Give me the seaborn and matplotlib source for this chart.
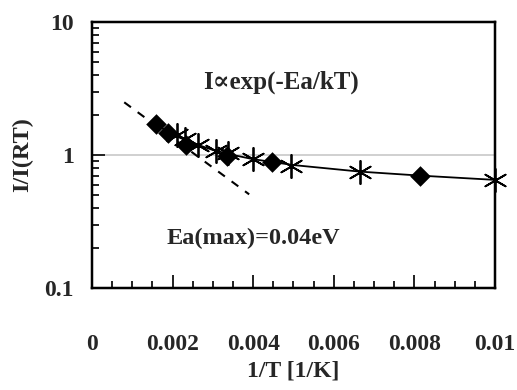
import matplotlib
matplotlib.use("Agg")
import matplotlib.pyplot as plt
import seaborn as sns
import numpy as np
import pandas as pd
from matplotlib.ticker import MultipleLocator, LogLocator, NullFormatter, FixedLocator

# Data
diamond_x = [0.00159, 0.00188, 0.00233, 0.00334, 0.00446, 0.00814]
diamond_y = [1.71, 1.47, 1.19, 0.98, 0.89, 0.69]
star_x = [0.00210, 0.00231, 0.00264, 0.00308, 0.00338, 0.00399, 0.00495, 0.00665, 0.0100]
star_y = [1.41, 1.33, 1.19, 1.07, 1.04, 0.93, 0.83, 0.75, 0.65]
fit_x = [0.00159, 0.00200, 0.00250, 0.00300, 0.00350, 0.00400, 0.00500, 0.00665, 0.00814, 0.0100]
fit_y = [1.70, 1.42, 1.23, 1.09, 1.00, 0.93, 0.84, 0.75, 0.70, 0.65]
dash_x = [0.0008, 0.0039]
dash_y = [2.49, 0.506]
x_ticks = [0, 0.002, 0.004, 0.006, 0.008, 0.01]
x_ticklabels = ["0", "0.002", "0.004", "0.006", "0.008", "0.01"]
y_ticks = [0.1, 1, 10]
y_ticklabels = ["0.1", "1", "10"]

sns.set_style("white")
plt.rcParams['font.family'] = ['Liberation Serif', 'DejaVu Serif']
plt.rcParams['font.weight'] = 'bold'

PX = 72 / 100  # points per pixel

fig = plt.figure(figsize=(5.17, 3.90), dpi=100)
ax = fig.add_axes([92/517, 1-288/390, (495-92)/517, (288-22)/390])
ax.set_yscale('log')
ax.set_xlim(0, 0.01)
ax.set_ylim(0.1, 10)

ax.axhline(1, color='#c8c8c8', lw=1.2, zorder=0)

sns.lineplot(x=fit_x, y=fit_y, ax=ax, color='black', lw=1.3, estimator=None, sort=False,
             zorder=2, clip_on=False)
sns.lineplot(x=dash_x, y=dash_y, ax=ax, color='black', lw=1.5, estimator=None, sort=False,
             linestyle=(0, (4, 4)), zorder=2)
sns.scatterplot(x=diamond_x, y=diamond_y, ax=ax, marker='D', s=110, color='black',
                edgecolor='black', linewidth=0, zorder=3, clip_on=False)
sns.scatterplot(x=star_x, y=star_y, ax=ax, marker=(6, 2, 0), s=280, color='black',
                linewidth=1.3, zorder=3, clip_on=False)

for sp in ax.spines.values():
    sp.set_color('black')
    sp.set_linewidth(2.5 * PX)

ax.xaxis.set_major_locator(FixedLocator(x_ticks))
ax.xaxis.set_minor_locator(MultipleLocator(0.0005))
ax.set_xticklabels(x_ticklabels)
ax.yaxis.set_major_locator(FixedLocator(y_ticks))
ax.yaxis.set_minor_locator(LogLocator(base=10, subs=np.arange(2, 10)))
ax.yaxis.set_minor_formatter(NullFormatter())
ax.set_yticklabels(y_ticklabels)

ax.tick_params(axis='x', which='major', direction='in', length=13*PX, width=2*PX, pad=33,
               labelsize=17, bottom=True, top=False)
ax.tick_params(axis='x', which='minor', direction='in', length=7*PX, width=2*PX, bottom=True, top=False)
ax.tick_params(axis='y', which='major', direction='in', length=13*PX, width=2*PX, pad=13,
               labelsize=17, left=True, right=False)
ax.tick_params(axis='y', which='minor', direction='in', length=7*PX, width=2*PX, left=True, right=False)
for lab in ax.get_xticklabels() + ax.get_yticklabels():
    lab.set_fontweight('bold')

ax.set_xlabel("1/T [1/K]", fontsize=17, fontweight='bold')
ax.set_ylabel("I/I(RT)", fontsize=17.5, fontweight='bold')
ax.xaxis.set_label_coords(0.5, -(360-288)/266)
ax.yaxis.set_label_coords(-(92-33)/403, 0.5)

ax.text(0.00470, 3.55, "I\u221dexp(-Ea/kT)", ha='center', va='center', fontsize=18, fontweight='bold')
ax.text(0.00400, 0.235, "Ea(max)=0.04eV", ha='center', va='center', fontsize=17.5, fontweight='bold')

fig.savefig("out.png", dpi=100)
